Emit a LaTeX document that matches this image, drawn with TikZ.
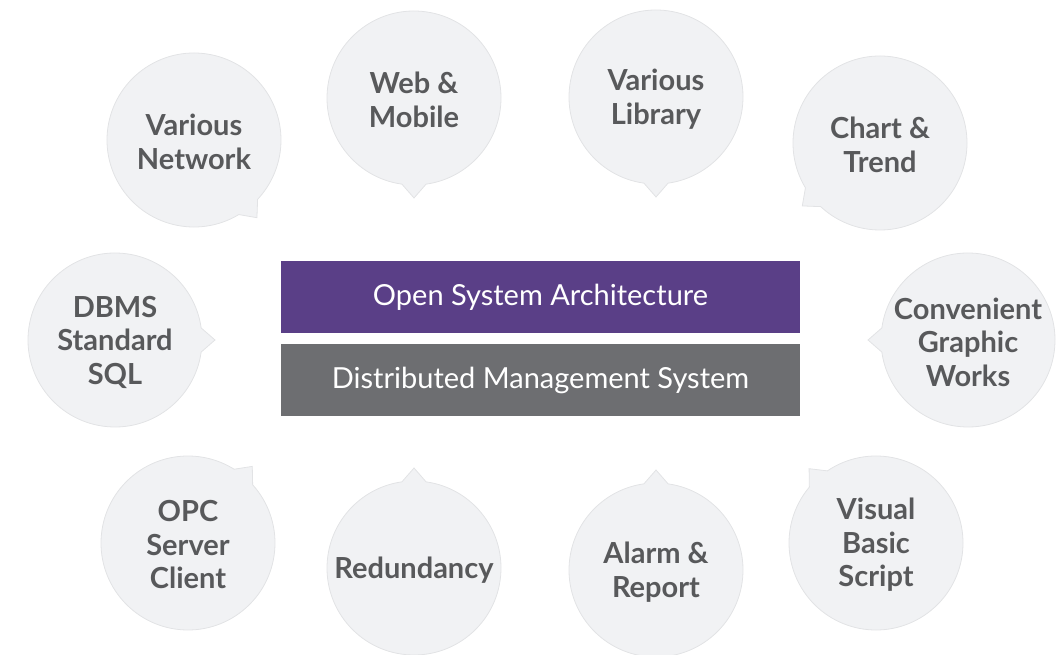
\documentclass[tikz,border=0pt]{standalone}
\usepackage{fontspec}
\setmainfont{Lato}
\usetikzlibrary{calc,positioning}

\definecolor{osapurple}{HTML}{5A3F87}
\definecolor{dmsgray}{HTML}{6D6E71}
\definecolor{bubblefill}{HTML}{F1F2F4}
\definecolor{bubbleline}{HTML}{E2E3E5}
\definecolor{bubbletextcol}{HTML}{58595B}

% speech bubble: name, centre, pointer angle, text
\newcommand{\bubble}[4]{%
    \coordinate (#1) at (#2);
    \filldraw[bubble] ($(#1)+(#3+8:87)$) -- ($(#1)+(#3:100)$) -- ($(#1)+(#3-8:87)$)
        arc[start angle=#3-8, end angle=#3-352, radius=87] -- cycle;
    \node[bubbletext] (#1-text) at ($(#1)+(0,-2)$) {#4};
}

\begin{document}
\begin{tikzpicture}[x=1pt,y=1pt,
    bubble/.style={fill=bubblefill, draw=bubbleline, line width=0.8pt},
    bubbletext/.style={align=center, text=bubbletextcol, font=\bfseries\fontsize{29}{33.5}\selectfont, inner sep=0pt},
    mainbox/.style={minimum width=519pt, minimum height=72pt, inner sep=0pt, text=white, font=\fontsize{29}{33}\selectfont}]
    \useasboundingbox (0,0) rectangle (1058,654);

    \bubble{net}{194,514}{-51}{Various\\Network}
    \bubble{web}{414,556}{-90}{Web \&\\Mobile}
    \bubble{lib}{656,557}{-90}{Various\\Library}
    \bubble{chart}{880,511}{-141}{Chart \&\\Trend}
    \bubble{dbms}{115,314}{0}{DBMS\\Standard\\SQL}
    \bubble{conv}{968,314}{180}{Convenient\\Graphic\\Works}
    \bubble{opc}{188,111}{50}{OPC\\Server\\Client}
    \bubble{red}{414,86}{90}{Redundancy}
    \bubble{alarm}{656,84}{90}{Alarm \&\\Report}
    \bubble{vbs}{876,111}{132}{Visual\\Basic\\Script}

    \node[mainbox, fill=osapurple] (osa) at (540.5,357) {Open System Architecture};
    \node[mainbox, fill=dmsgray] (dms) [below=11pt of osa] {Distributed Management System};
\end{tikzpicture}
\end{document}
